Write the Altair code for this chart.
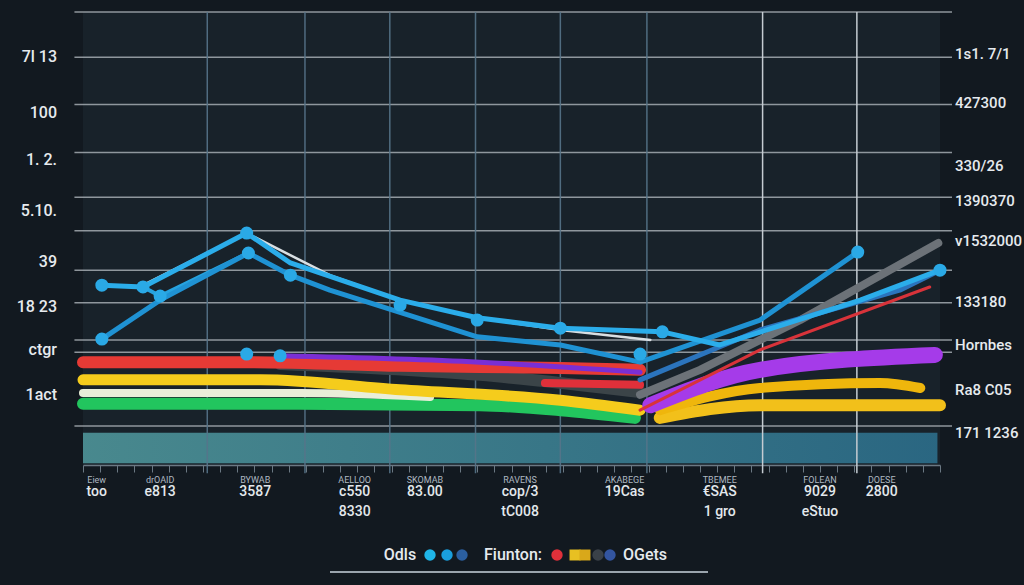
import altair as alt
import pandas as pd

# ---------------- data (x: period 0-10, y: index 0-100) ----------------
white_x = [0.70, 1.91, 2.88, 3.70, 4.60, 5.57, 6.62]
white_y = [39.7, 51.2, 41.9, 36.4, 32.5, 29.8, 27.6]

cyan_a_x = [0.22, 0.70, 1.91, 2.42, 3.70, 4.60, 5.57, 6.76, 7.43, 9.07, 10.0]
cyan_a_y = [39.7, 39.3, 51.2, 44.6, 36.4, 32.5, 30.2, 29.4, 26.5, 36.4, 43.0]

cyan_b_x = [0.22, 0.90, 1.93, 2.42, 2.88, 4.60, 5.57, 6.50, 7.90, 9.04]
cyan_b_y = [27.8, 36.4, 46.8, 41.9, 38.6, 28.3, 26.5, 22.7, 32.0, 47.0]

cyan_c_x = [0.70, 0.90, 1.93]
cyan_c_y = [39.3, 37.3, 46.8]

grey_x = [6.50, 7.20, 8.37, 9.98]
grey_y = [15.5, 21.0, 32.0, 49.0]

blue_x = [6.50, 7.90, 9.53, 10.0]
blue_y = [18.8, 29.8, 38.6, 43.0]

redthin_x = [6.50, 7.90, 9.88]
redthin_y = [12.1, 25.4, 39.3]

red_x = [0.0, 1.95, 3.70, 5.57, 6.50]
red_y = [22.7, 22.7, 21.9, 21.4, 21.0]

red2_x = [5.39, 6.50]
red2_y = [18.1, 17.7]

purple_x = [2.30, 4.63, 6.50]
purple_y = [24.1, 22.7, 20.5]

dark_x = [2.30, 4.63, 6.50]
dark_y = [22.3, 19.9, 16.1]

yellow_x = [0.0, 2.07, 3.70, 5.57, 6.50]
yellow_y = [18.8, 18.8, 16.6, 14.3, 12.1]

cream_x = [0.0, 2.53, 4.05]
cream_y = [15.9, 15.9, 15.0]

green_x = [0.0, 2.53, 4.63, 5.57, 6.44]
green_y = [13.5, 13.5, 13.2, 12.1, 10.4]

purple_r_x = [6.62, 7.90, 9.94]
purple_r_y = [13.2, 21.0, 24.3]

yellow_r1_x = [6.73, 7.90, 9.30, 9.77]
yellow_r1_y = [12.1, 17.0, 18.1, 17.0]

yellow_r2_x = [6.73, 7.90, 10.0]
yellow_r2_y = [10.4, 13.2, 13.2]

point_x = [0.22, 0.70, 0.90, 1.91, 1.93, 0.22, 2.42, 3.70, 4.60, 5.57, 6.76, 6.50, 9.04, 10.0, 1.91, 2.30]
point_y = [39.7, 39.3, 37.3, 51.2, 46.8, 27.8, 41.9, 35.3, 32.0, 30.2, 29.4, 24.5, 47.0, 43.0, 24.5, 24.1]

hgrid_y = [100, 90.0, 79.6, 69.0, 59.1, 51.7, 43.0, 35.8, 27.6, 24.9, 8.6]
vgrid_x = [1.45, 2.59, 3.58, 4.58, 5.57, 6.58]
vgrid_bright_x = [7.93, 9.03]

band_x = [0.0, 9.97]
band_y = [0.4, 7.1]

left_labels = ["7l 13", "100", "1. 2.", "5.10.", "39", "18 23", "ctgr", "1act"]
left_vals = [90.1, 77.7, 67.3, 56.1, 44.8, 34.9, 25.4, 15.5]

right_labels = ["1s1. 7/1", "427300", "330/26", "1390370", "v1532000", "133180", "Hornbes", "Ra8 C05", "171 1236"]
right_vals = [90.7, 79.9, 66.0, 58.3, 49.4, 36.0, 26.5, 16.6, 7.1]

bottom_x = [0.16, 0.90, 2.01, 3.17, 3.99, 5.10, 6.32, 7.43, 8.60, 9.32]
bottom_head = ["Eiew", "drOAID", "BYWAB", "AELLOO", "SKOMAB", "RAVENS", "AKABEGE", "TBEMEE", "FOLEAN", "DOESE"]
bottom_row1 = ["too", "e813", "3587", "c550", "83.00", "cop/3", "19Cas", "€SAS", "9029", "2800"]
bottom_row2 = ["", "", "", "8330", "", "tC008", "", "1 gro", "eStuo", ""]

tick_vals = [round(i * 0.2, 2) for i in range(51)]

FONT = "Roboto, DejaVu Sans"

# ---------------- helpers ----------------
xs = alt.Scale(domain=[0, 10], nice=False, zero=False)
ys = alt.Scale(domain=[0, 100], nice=False, zero=False)
xaxis = alt.Axis(values=tick_vals, labels=False, title=None, grid=False,
                 domainColor="#6b7883", tickColor="#6b7883", tickSize=7,
                 domainWidth=1.5, tickWidth=1)


def X(f):
    return alt.X(f, type="quantitative", scale=xs, axis=xaxis)


def Y(f):
    return alt.Y(f, type="quantitative", scale=ys, axis=None)


def line(xv, yv, color, width, interp="monotone", opacity=1.0):
    df = pd.DataFrame({"x": xv, "y": yv})
    return alt.Chart(df).mark_line(
        color=color, strokeWidth=width, interpolate=interp,
        strokeCap="round", strokeJoin="round", opacity=opacity
    ).encode(x=X("x"), y=Y("y"))


layers = []

# teal band
band_df = pd.DataFrame({"x0": [band_x[0]], "x1": [band_x[1]], "y0": [band_y[0]], "y1": [band_y[1]]})
layers.append(alt.Chart(band_df).mark_rect(
    fill=alt.Gradient(gradient="linear",
                      stops=[alt.GradientStop(color="#4b8e93", offset=0),
                             alt.GradientStop(color="#2b6a86", offset=1)],
                      x1=0, x2=1, y1=0, y2=0),
    opacity=0.95
).encode(x=X("x0"), x2="x1", y=Y("y0"), y2="y1"))

# grid
hg = pd.DataFrame({"y": hgrid_y, "x0": [-0.1] * len(hgrid_y), "x1": [10.14] * len(hgrid_y)})
layers.append(alt.Chart(hg).mark_rule(color="#a4acb2", strokeWidth=1.5, opacity=0.85).encode(
    x=X("x0"), x2="x1", y=Y("y")))
vg = pd.DataFrame({"x": vgrid_x, "y0": [-1.8] * len(vgrid_x), "y1": [100] * len(vgrid_x)})
layers.append(alt.Chart(vg).mark_rule(color="#56748a", strokeWidth=1.5, opacity=0.9).encode(
    x=X("x"), y=Y("y0"), y2="y1"))
vgb = pd.DataFrame({"x": vgrid_bright_x, "y0": [-1.8] * 2, "y1": [100] * 2})
layers.append(alt.Chart(vgb).mark_rule(color="#c5ccd2", strokeWidth=1.5).encode(
    x=X("x"), y=Y("y0"), y2="y1"))

# thick bands
layers += [
    line(green_x, green_y, "#22c55e", 12),
    line(cream_x, cream_y, "#e9eed9", 8),
    line(yellow_x, yellow_y, "#f5cc1c", 11),
    line(dark_x, dark_y, "#3b4448", 12),
    line(red2_x, red2_y, "#e0303a", 8),
    line(red_x, red_y, "#e63a35", 12),
    line(purple_x, purple_y, "#7a2fd4", 5),
    line(yellow_r2_x, yellow_r2_y, "#f2c01a", 12),
    line(yellow_r1_x, yellow_r1_y, "#efb60c", 10),
    line(purple_r_x, purple_r_y, "#a53be9", 16),
]

# lines
layers += [
    line(grey_x, grey_y, "#6c7278", 8, "linear"),
    line(redthin_x, redthin_y, "#d8333a", 3, "linear"),
    line(blue_x, blue_y, "#2b74bd", 5, "linear"),
    line(white_x, white_y, "#d9dfe3", 2.5, "linear"),
    line(cyan_c_x, cyan_c_y, "#27a3df", 4, "linear"),
    line(cyan_b_x, cyan_b_y, "#1f92d3", 5, "linear"),
    line(cyan_a_x, cyan_a_y, "#2badea", 5, "linear"),
]

pts = pd.DataFrame({"x": point_x, "y": point_y})
layers.append(alt.Chart(pts).mark_circle(color="#2aa9e6", size=170, opacity=1).encode(
    x=X("x"), y=Y("y")))

# axis labels
ldf = pd.DataFrame({"t": left_labels, "v": left_vals})
layers.append(alt.Chart(ldf).mark_text(align="right", baseline="middle", font=FONT,
                                       fontSize=16, fontWeight=500, color="#e6eaee").encode(
    x=alt.value(-26), y=Y("v"), text="t"))
rdf = pd.DataFrame({"t": right_labels, "v": right_vals})
layers.append(alt.Chart(rdf).mark_text(align="left", baseline="middle", font=FONT,
                                       fontSize=15, fontWeight=500, color="#e6eaee").encode(
    x=alt.value(872), y=Y("v"), text="t"))

bdf = pd.DataFrame({"x": bottom_x, "h": bottom_head, "r1": bottom_row1, "r2": bottom_row2})
layers.append(alt.Chart(bdf).mark_text(baseline="middle", font=FONT, fontSize=9,
                                       color="#aeb8c0").encode(
    x=X("x"), y=alt.value(468), text="h"))
layers.append(alt.Chart(bdf).mark_text(baseline="middle", font=FONT, fontSize=14,
                                       fontWeight=500, color="#e3e8ec").encode(
    x=X("x"), y=alt.value(480), text="r1"))
layers.append(alt.Chart(bdf).mark_text(baseline="middle", font=FONT, fontSize=14,
                                       fontWeight=500, color="#e3e8ec").encode(
    x=X("x"), y=alt.value(500), text="r2"))

# custom legend
one = pd.DataFrame({"a": [0]})
legend_labels = ["Odls", "Fiunton:", "OGets"]
legend_label_px = [317, 430, 562]
for t, px in zip(legend_labels, legend_label_px):
    layers.append(alt.Chart(one).mark_text(text=t, font=FONT, fontSize=16, fontWeight=500,
                                           color="#e6eaee", baseline="middle").encode(
        x=alt.value(px), y=alt.value(543)))

legend_dot_px = [347, 364, 379, 474, 515, 527]
legend_dot_colors = ["#1fb5e8", "#1a9fdd", "#2b5fa0", "#e0303a", "#3a4148", "#3355a0"]
for px, c in zip(legend_dot_px, legend_dot_colors):
    layers.append(alt.Chart(one).mark_circle(color=c, size=130, opacity=1).encode(
        x=alt.value(px), y=alt.value(543)))
legend_sq_px = [492, 502]
legend_sq_colors = ["#e8c022", "#d9a81a"]
for px, c in zip(legend_sq_px, legend_sq_colors):
    layers.append(alt.Chart(one).mark_square(color=c, size=120, opacity=1).encode(
        x=alt.value(px), y=alt.value(543)))
layers.append(alt.Chart(one).mark_rule(color="#9aa4ad", strokeWidth=2).encode(
    x=alt.value(247), x2=alt.value(625), y=alt.value(560)))

chart = alt.layer(*layers).properties(
    width=857, height=453,
    padding={"left": 83, "top": 12, "right": 84, "bottom": 120},
    autosize="none",
    background="#121920",
).configure_view(fill="#18222a", stroke=None)

chart.save("out.html", embed_options={"renderer": "svg", "actions": False})
